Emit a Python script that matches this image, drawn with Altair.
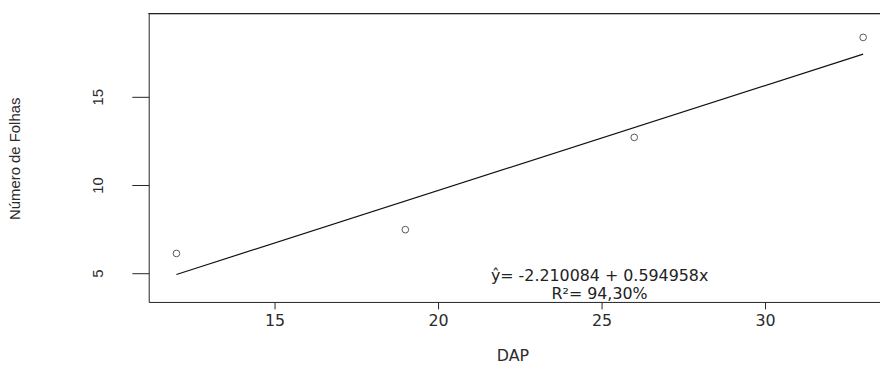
import altair as alt
import pandas as pd

dap = [12, 19, 26, 33]
folhas = [6.12, 7.47, 12.70, 18.37]

# Fitted line end points
fit_x = [12, 33]
fit_y = [4.93, 17.42]

# Annotation lines
ann_text = ["ŷ= -2.210084 + 0.594958x", "R²= 94,30%"]
ann_x = [24.94, 24.94]
ann_y = [4.85, 3.82]

x_ticks = [15, 20, 25, 30]
y_ticks = [5, 10, 15]

pts = pd.DataFrame({"DAP": dap, "Folhas": folhas})
fit = pd.DataFrame({"DAP": fit_x, "Folhas": fit_y})
ann = pd.DataFrame({"t": ann_text, "DAP": ann_x, "Folhas": ann_y})

W, H = 738, 291
xs = alt.Scale(domain=[11.152, 33.515], nice=False, zero=False)
ys = alt.Scale(domain=[3.371, 19.72], nice=False, zero=False)

label_color = "#2b2b2b"

x_enc = alt.X(
    "DAP:Q", scale=xs,
    axis=alt.Axis(
        title="DAP", values=x_ticks, grid=False, domainColor="#222", tickColor="#222",
        tickSize=7, labelFont="DejaVu Sans", labelFontSize=16, labelColor=label_color,
        labelPadding=12, labelBaseline="middle", labelAngle=0,
        titleFont="DejaVu Sans", titleFontSize=16, titleFontWeight="normal",
        titleColor=label_color, titleX=367, titleY=54, titleBaseline="middle",
        titleAlign="center",
    ),
)
y_enc = alt.Y(
    "Folhas:Q", scale=ys,
    axis=alt.Axis(
        title="Número de Folhas", values=y_ticks, grid=False, domainColor="#222",
        tickColor="#222", tickSize=17, labelFont="Liberation Sans", labelFontSize=15,
        labelColor=label_color, labelAngle=270, labelAlign="center",
        labelBaseline="alphabetic", labelPadding=30,
        titleFont="Liberation Sans", titleFontSize=15, titleFontWeight="normal",
        titleColor=label_color, titleAngle=270, titleX=-135, titleY=146,
        titleAlign="center", titleBaseline="middle",
    ),
)

points = alt.Chart(pts).mark_point(
    shape="circle", filled=False, color="#111", size=45, strokeWidth=1
).encode(x=x_enc, y=y_enc)

line = alt.Chart(fit).mark_line(color="#111", strokeWidth=1.2).encode(
    x=alt.X("DAP:Q", scale=xs), y=alt.Y("Folhas:Q", scale=ys)
)

text = alt.Chart(ann).mark_text(
    font="DejaVu Sans", fontSize=16, color="#222", align="center", baseline="middle"
).encode(x=alt.X("DAP:Q", scale=xs), y=alt.Y("Folhas:Q", scale=ys), text="t:N")

top = alt.Chart(pts).mark_rule(color="#222", strokeWidth=1).encode(
    x=alt.value(0), x2=alt.value(W), y=alt.value(0)
)

chart = alt.layer(points, line, text, top).properties(
    width=W, height=H,
    autosize=alt.AutoSizeParams(type="none"),
    padding={"left": 142, "top": 4, "right": 0, "bottom": 63},
).configure_view(stroke=None)

chart.save("out.html", embed_options={"renderer": "svg", "actions": False})
